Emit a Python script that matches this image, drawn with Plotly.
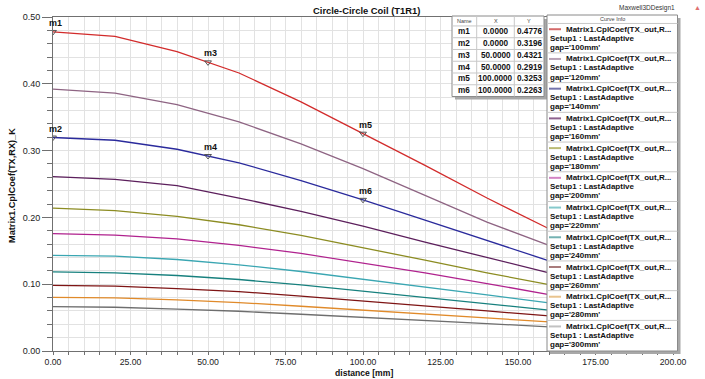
import plotly.graph_objects as go

# ---------------- data ----------------
distance = [0, 20, 40, 60, 80, 100, 120, 140, 160]

k_gap100 = [0.4776, 0.4710, 0.4480, 0.4162, 0.3730, 0.3253, 0.2780, 0.2290, 0.1830]
k_gap120 = [0.3920, 0.3860, 0.3690, 0.3430, 0.3100, 0.2730, 0.2330, 0.1930, 0.1580]
k_gap140 = [0.3196, 0.3155, 0.3020, 0.2818, 0.2550, 0.2263, 0.1960, 0.1660, 0.1350]
k_gap160 = [0.2610, 0.2570, 0.2475, 0.2290, 0.2090, 0.1870, 0.1630, 0.1400, 0.1170]
k_gap180 = [0.2140, 0.2100, 0.2015, 0.1890, 0.1730, 0.1550, 0.1360, 0.1170, 0.0995]
k_gap200 = [0.1756, 0.1735, 0.1680, 0.1580, 0.1460, 0.1320, 0.1170, 0.1010, 0.0845]
k_gap220 = [0.1433, 0.1420, 0.1370, 0.1290, 0.1190, 0.1070, 0.0955, 0.0840, 0.0722]
k_gap240 = [0.1186, 0.1170, 0.1130, 0.1070, 0.0990, 0.0895, 0.0800, 0.0710, 0.0613]
k_gap260 = [0.0982, 0.0970, 0.0935, 0.0890, 0.0820, 0.0750, 0.0680, 0.0600, 0.0525]
k_gap280 = [0.0804, 0.0795, 0.0765, 0.0725, 0.0670, 0.0613, 0.0555, 0.0495, 0.0436]
k_gap300 = [0.0665, 0.0655, 0.0627, 0.0595, 0.0550, 0.0500, 0.0455, 0.0410, 0.0362]

gap_labels = ["100mm", "120mm", "140mm", "160mm", "180mm", "200mm",
              "220mm", "240mm", "260mm", "280mm", "300mm"]

marker_names = ["m1", "m2", "m3", "m4", "m5", "m6"]
marker_x = [0.0, 0.0, 50.0, 50.0, 100.0, 100.0]
marker_y = [0.4776, 0.3196, 0.4321, 0.2919, 0.3253, 0.2263]

x_ticks = [0, 25, 50, 75, 100, 125, 150, 175, 200]
y_ticks = [0.0, 0.1, 0.2, 0.3, 0.4, 0.5]

series = [k_gap100, k_gap120, k_gap140, k_gap160, k_gap180, k_gap200,
          k_gap220, k_gap240, k_gap260, k_gap280, k_gap300]

# ---------------- styles ----------------
line_colors = ["#D22B2B", "#8E6483", "#2A2A9C", "#5C1F5C", "#8C8C22", "#B0228E",
               "#3AA6B2", "#17807E", "#7E1414", "#E08A2A", "#6E6E6E"]
legend_colors = ["#D46A6A", "#B9A2B5", "#7474AC", "#8E628E", "#BABA74", "#D384C4",
                 "#86CACC", "#74B2B2", "#A97C7C", "#E9C48E", "#C2C2C2"]
FONT = "Liberation Sans, Arial, sans-serif"

W, H = 705, 379
L, R, T, B = 53, 673, 16, 352


def px(xp):
    return (xp - L) / (R - L)


def py(yp):
    return (B - yp) / (B - T)


fig = go.Figure()

for vals, col, gap in zip(series, line_colors, gap_labels):
    fig.add_trace(go.Scatter(x=distance, y=vals, mode="lines",
                             line=dict(color=col, width=1.3),
                             name=gap, showlegend=False, hoverinfo="skip"))

fig.add_trace(go.Scatter(x=marker_x, y=marker_y, mode="markers",
                         marker=dict(symbol="triangle-down-open", size=6,
                                     color="#555555", line=dict(width=1, color="#555555")),
                         showlegend=False, hoverinfo="skip"))

annotations = []
shapes = []

# marker labels
for n, mx, my in zip(marker_names, marker_x, marker_y):
    annotations.append(dict(x=mx, y=my, xref="x", yref="y", text="<b>" + n + "</b>",
                            showarrow=False, xanchor="center", yanchor="middle",
                            xshift=2, yshift=9, borderpad=0,
                            font=dict(family=FONT, size=9, color="#111111")))

# title and axis titles
annotations.append(dict(x=px(366), y=py(9.5), xref="paper", yref="paper",
                        text="<b>Circle-Circle Coil (T1R1)</b>", showarrow=False,
                        xanchor="center", yanchor="middle", borderpad=0,
                        font=dict(family=FONT, size=9.4, color="#111111")))
annotations.append(dict(x=px(364), y=py(374), xref="paper", yref="paper",
                        text="<b>distance [mm]</b>", showarrow=False,
                        xanchor="center", yanchor="middle", borderpad=0,
                        font=dict(family=FONT, size=8.6, color="#111111")))
annotations.append(dict(x=px(12), y=py(186), xref="paper", yref="paper",
                        text="<b>Matrix1.CplCoef(TX,RX)_K</b>", showarrow=False,
                        textangle=-90, xanchor="center", yanchor="middle", borderpad=0,
                        font=dict(family=FONT, size=9.2, color="#111111")))
annotations.append(dict(x=px(676), y=py(7), xref="paper", yref="paper",
                        text="Maxwell3DDesign1", showarrow=False,
                        xanchor="right", yanchor="middle", borderpad=0,
                        font=dict(family=FONT, size=6.5, color="#333333")))
annotations.append(dict(x=px(697), y=py(6), xref="paper", yref="paper",
                        text="▲", showarrow=False,
                        xanchor="center", yanchor="middle", borderpad=0,
                        font=dict(family=FONT, size=7, color="#E07070")))

# ---------------- marker table ----------------
tx0, tx1, ty0, ty1 = 452, 544, 15, 96
col_edges = [452, 476.7, 514.3, 544]
hdr_bottom = 25
row_h = (ty1 - hdr_bottom) / 6.0
shapes.append(dict(type="rect", xref="paper", yref="paper", layer="above",
                   x0=px(tx0 + 3), x1=px(tx1 + 3), y0=py(ty0 + 3), y1=py(ty1 + 3),
                   fillcolor="#A8A8A8", line=dict(width=0)))
shapes.append(dict(type="rect", xref="paper", yref="paper", layer="above",
                   x0=px(tx0), x1=px(tx1), y0=py(ty0), y1=py(ty1),
                   fillcolor="white", line=dict(color="#8A8A8A", width=1)))
for ce in col_edges[1:-1]:
    shapes.append(dict(type="line", xref="paper", yref="paper", layer="above",
                       x0=px(ce), x1=px(ce), y0=py(ty0), y1=py(ty1),
                       line=dict(color="#C8C8C8", width=1)))
for k in range(6):
    yy = hdr_bottom + k * row_h
    shapes.append(dict(type="line", xref="paper", yref="paper", layer="above",
                       x0=px(tx0), x1=px(tx1), y0=py(yy), y1=py(yy),
                       line=dict(color="#C8C8C8", width=1)))
col_centers = [(col_edges[i] + col_edges[i + 1]) / 2 for i in range(3)]
for hdr, cx in zip(["Name", "X", "Y"], col_centers):
    annotations.append(dict(x=px(cx), y=py(20), xref="paper", yref="paper",
                            text=hdr, showarrow=False, xanchor="center", yanchor="middle",
                            borderpad=0,
                            font=dict(family=FONT, size=5.5, color="#444444")))
for k, (n, mx, my) in enumerate(zip(marker_names, marker_x, marker_y)):
    cy = hdr_bottom + (k + 0.5) * row_h
    for txt, cx in zip([n, "%.4f" % mx, "%.4f" % my], col_centers):
        annotations.append(dict(x=px(cx), y=py(cy), xref="paper", yref="paper",
                                text="<b>" + txt + "</b>", showarrow=False,
                                xanchor="center", yanchor="middle", borderpad=0,
                                font=dict(family=FONT, size=8.2, color="#111111")))

# ---------------- curve info legend ----------------
lx0, lx1, ly0, ly1 = 547, 677.5, 14, 352
shapes.append(dict(type="rect", xref="paper", yref="paper", layer="above",
                   x0=px(lx0 + 3), x1=px(lx1 + 3), y0=py(ly0 + 3), y1=py(ly1 + 3),
                   fillcolor="#A8A8A8", line=dict(width=0)))
shapes.append(dict(type="rect", xref="paper", yref="paper", layer="above",
                   x0=px(lx0), x1=px(lx1), y0=py(ly0), y1=py(ly1),
                   fillcolor="white", line=dict(color="#8A8A8A", width=1)))
annotations.append(dict(x=px((lx0 + lx1) / 2), y=py(18.3), xref="paper", yref="paper",
                        text="Curve Info", showarrow=False, xanchor="center", yanchor="middle",
                        borderpad=0,
                        font=dict(family=FONT, size=5.5, color="#444444")))
shapes.append(dict(type="line", xref="paper", yref="paper", layer="above",
                   x0=px(lx0), x1=px(lx1), y0=py(22.5), y1=py(22.5),
                   line=dict(color="#C8C8C8", width=1)))
period = 29.9
for i, (gap, lc) in enumerate(zip(gap_labels, legend_colors)):
    y1 = 28.3 + i * period
    y2 = y1 + 9.1
    y3 = y1 + 18.2
    shapes.append(dict(type="line", xref="paper", yref="paper", layer="above",
                       x0=px(549), x1=px(561), y0=py(y1), y1=py(y1),
                       line=dict(color=lc, width=2)))
    annotations.append(dict(x=px(564.5), y=py(y1), xref="paper", yref="paper",
                            text="<b>Matrix1.CplCoef(TX_out,R...</b>", showarrow=False,
                            xanchor="left", yanchor="middle", borderpad=0,
                            font=dict(family=FONT, size=8, color="#111111")))
    annotations.append(dict(x=px(548.5), y=py(y2), xref="paper", yref="paper",
                            text="<b>Setup1 : LastAdaptive</b>", showarrow=False,
                            xanchor="left", yanchor="middle", borderpad=0,
                            font=dict(family=FONT, size=8, color="#111111")))
    annotations.append(dict(x=px(548.5), y=py(y3), xref="paper", yref="paper",
                            text="<b>gap='" + gap + "'</b>", showarrow=False,
                            xanchor="left", yanchor="middle", borderpad=0,
                            font=dict(family=FONT, size=8, color="#111111")))
    if i < len(gap_labels) - 1:
        ys = y3 + 5.6
        shapes.append(dict(type="line", xref="paper", yref="paper", layer="above",
                           x0=px(lx0), x1=px(lx1), y0=py(ys), y1=py(ys),
                           line=dict(color="#C8C8C8", width=1)))

fig.update_layout(
    width=W, height=H,
    margin=dict(l=L, r=W - R, t=T, b=H - B, pad=0),
    paper_bgcolor="white", plot_bgcolor="white",
    showlegend=False,
    annotations=annotations,
    shapes=shapes,
    xaxis=dict(range=[0, 200], tickvals=x_ticks,
               ticktext=["%.2f" % v for v in x_ticks],
               showgrid=True, gridcolor="#E2E2E2", gridwidth=1,
               ticks="outside", ticklen=3, tickcolor="#707070",
               showline=True, linecolor="#707070", linewidth=1, mirror=True,
               zeroline=False,
               tickfont=dict(family=FONT, size=8.7, color="#222222"),
               minor=dict(dtick=5, tick0=0, ticks="outside", ticklen=3, tickcolor="#707070",
                          showgrid=True, gridcolor="#E2E2E2", gridwidth=1)),
    yaxis=dict(range=[0, 0.5], tickvals=y_ticks,
               ticktext=["%.2f" % v for v in y_ticks],
               showgrid=True, gridcolor="#E2E2E2", gridwidth=1,
               ticks="outside", ticklen=10, tickcolor="#707070",
               showline=True, linecolor="#707070", linewidth=1,
               zeroline=False,
               tickfont=dict(family=FONT, size=9, color="#222222"),
               minor=dict(dtick=0.02, tick0=0, ticks="outside", ticklen=5, tickcolor="#707070",
                          showgrid=True, gridcolor="#E2E2E2", gridwidth=1)),
)

fig.write_html("out.html")
